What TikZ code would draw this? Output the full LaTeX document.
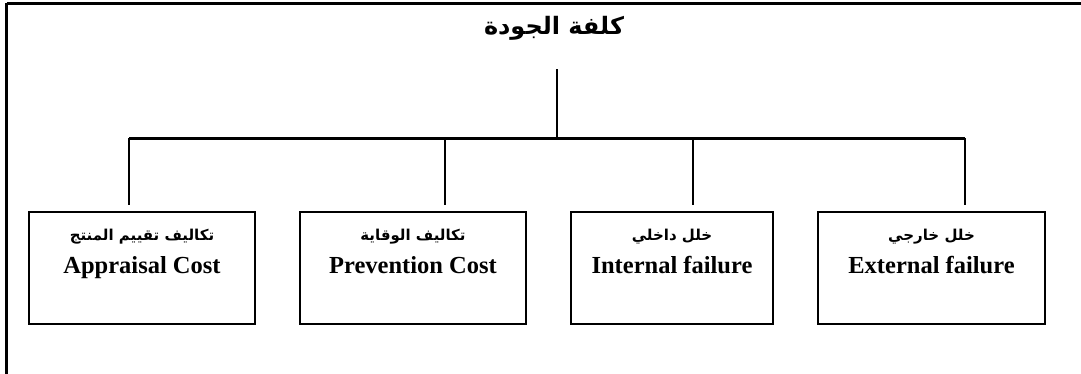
\documentclass[tikz,border=0pt]{standalone}
\usepackage{fontspec}
\setmainfont{Liberation Serif}
\newfontfamily\arabicfont[Script=Arabic]{DejaVu Sans}
\TeXXeTstate=1
\begin{document}
\begin{tikzpicture}[x=1pt,y=-1pt,
  frameline/.style={line width=2.8pt},
  link/.style={line width=2.1pt},
  costbox/.style={draw,line width=2.1pt,rectangle,minimum height=112pt,inner sep=0pt},
  artext/.style={font=\arabicfont\bfseries\fontsize{15}{17}\selectfont,inner sep=0pt},
  entext/.style={font=\bfseries\fontsize{24.5}{28}\selectfont,inner sep=0pt},
  titletext/.style={font=\arabicfont\bfseries\fontsize{24}{28}\selectfont,inner sep=0pt}]
\useasboundingbox (0,0) rectangle (1081,374);

% open frame: top and left edges only
\draw[frameline] (6.7,3.3) -- (1081,3.3);
\draw[frameline] (6.7,3.3) -- (6.7,374);

% title
\node[titletext] (title) at (554,28) {\beginR كلفة الجودة\endR};

% cost boxes
\node[costbox,minimum width=226pt,anchor=north] (appr) at (142,211) {};
\node[costbox,minimum width=226pt,anchor=north] (prev) at (413,211) {};
\node[costbox,minimum width=202pt,anchor=north] (intf) at (672,211) {};
\node[costbox,minimum width=227pt,anchor=north] (extf) at (931.5,211) {};

% labels inside the boxes
\node[artext] (apprA) at (142,237) {\beginR تكاليف تقييم المنتج\endR};
\node[entext,anchor=base] (apprE) at (142,273) {Appraisal Cost};
\node[artext] (prevA) at (413,237) {\beginR تكاليف الوقاية\endR};
\node[entext,anchor=base] (prevE) at (413,273) {Prevention Cost};
\node[artext] (intfA) at (672,237) {\beginR خلل داخلي\endR};
\node[entext,anchor=base] (intfE) at (672,273) {Internal failure};
\node[artext] (extfA) at (931.5,237) {\beginR خلل خارجي\endR};
\node[entext,anchor=base] (extfE) at (931.5,273) {External failure};

% tree connectors: stem from the title, the bus, and one drop per box
\coordinate (top) at (557.3,69.3);
\coordinate (hub) at (557.3,138.5);
\coordinate (busL) at (129,138.5);
\coordinate (busR) at (965,138.5);
\coordinate (dA) at (129,138.5);
\coordinate (dB) at (444.7,138.5);
\coordinate (dC) at (692.7,138.5);
\coordinate (dD) at (965,138.5);
\draw[link] (top) -- (hub);
\draw[link] (busL) -- (busR);
\draw[link,shorten >=5.5pt] (dA) -- (dA |- appr.north);
\draw[link,shorten >=5.5pt] (dB) -- (dB |- prev.north);
\draw[link,shorten >=5.5pt] (dC) -- (dC |- intf.north);
\draw[link,shorten >=5.5pt] (dD) -- (dD |- extf.north);
\end{tikzpicture}
\end{document}
